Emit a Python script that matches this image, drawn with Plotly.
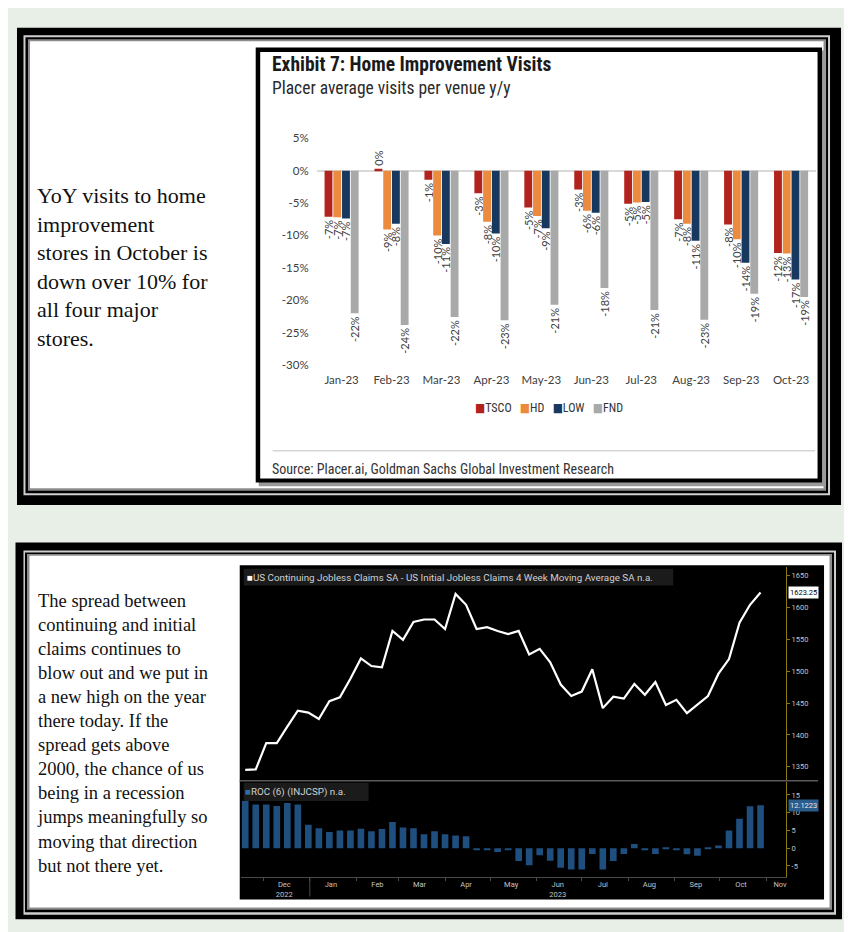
import plotly.graph_objects as go
import pandas as pd

W, H = 852, 932

# ---------------- data: top chart (Placer y/y visits) ----------------
months = ["Jan-23", "Feb-23", "Mar-23", "Apr-23", "May-23",
          "Jun-23", "Jul-23", "Aug-23", "Sep-23", "Oct-23"]
tsco = [-7.1, 0.3, -1.4, -3.5, -5.7, -2.9, -5.1, -7.5, -8.3, -12.7]
hd = [-7.2, -9.1, -10.0, -7.9, -7.0, -6.2, -4.9, -8.2, -10.6, -12.8]
low = [-7.4, -8.2, -11.3, -9.7, -8.9, -6.5, -4.85, -10.8, -14.2, -16.8]
fnd = [-22.0, -23.8, -22.6, -23.1, -20.7, -18.1, -21.5, -23.0, -19.0, -19.5]
tsco_lbl = ["-7%", "0%", "-1%", "-3%", "-5%", "-3%", "-5%", "-7%", "-8%", "-12%"]
hd_lbl = ["-7%", "-9%", "-10%", "-8%", "-7%", "-6%", "-5%", "-8%", "-10%", "-13%"]
low_lbl = ["-7%", "-8%", "-11%", "-10%", "-9%", "-6%", "-5%", "-11%", "-14%", "-17%"]
fnd_lbl = ["-22%", "-24%", "-22%", "-23%", "-21%", "-18%", "-21%", "-23%", "-19%", "-19%"]
pct_ticks = [-30, -25, -20, -15, -10, -5, 0, 5]
pct_tick_text = ["-30%", "-25%", "-20%", "-15%", "-10%", "-5%", "0%", "5%"]

# ---------------- data: bottom chart (claims spread) ----------------
weeks = pd.date_range("2022-11-19", periods=50, freq="7D")
spread = [1345, 1346, 1387, 1387, 1413, 1438, 1435, 1425, 1453, 1459,
          1488, 1520, 1508, 1506, 1563, 1549, 1577, 1581, 1581, 1566,
          1621, 1604, 1566, 1569, 1563, 1558, 1563, 1526, 1535, 1514,
          1479, 1461, 1468, 1503, 1442, 1460, 1457, 1480, 1463, 1483,
          1447, 1455, 1434, 1448, 1461, 1496, 1519, 1576, 1604, 1623.25]
roc6 = [13.3, 12.3, 12.3, 11.9, 12.7, 12.3, 6.6, 5.6, 4.6, 5.0,
        5.0, 5.5, 4.8, 5.4, 7.4, 5.8, 5.6, 3.9, 4.8, 3.9,
        3.6, 3.4, -0.6, -0.6, -1.1, -0.5, -3.6, -4.8, -2.0, -3.5,
        -5.5, -6.0, -6.0, -1.6, -6.0, -3.6, -1.6, 1.2, -0.5, -1.6,
        0.3, -0.3, -1.7, -2.1, 0.1, 0.8, 5.0, 8.3, 11.8, 12.1223]
spread_ticks = [1350, 1400, 1450, 1500, 1550, 1600, 1650]
roc_ticks = [-5, 0, 5, 10, 15]
roc_tick_text = ["-5", "0", "5", "10", "15"]
month_tick_dates = ["2022-12-15", "2023-01-15", "2023-02-15", "2023-03-15", "2023-04-15",
                    "2023-05-15", "2023-06-15", "2023-07-15", "2023-08-15", "2023-09-15",
                    "2023-10-15", "2023-11-10"]
month_tick_text = ["Dec<br>2022", "Jan", "Feb", "Mar", "Apr", "May", "Jun<br>2023",
                   "Jul", "Aug", "Sep", "Oct", "Nov"]
month_starts = ["2022-12-01", "2023-01-01", "2023-02-01", "2023-03-01", "2023-04-01",
                "2023-05-01", "2023-06-01", "2023-07-01", "2023-08-01", "2023-09-01",
                "2023-10-01", "2023-11-01"]
date_range = ["2022-11-16", "2023-11-14"]

# ---------------- styling ----------------
BG = "#E8EFE7"
NARROW = "Roboto Condensed, DejaVu Sans Condensed, Roboto, sans-serif"
SANS = "Roboto, Liberation Sans, sans-serif"
SERIF = "Liberation Serif, serif"
C_TSCO, C_HD, C_LOW, C_FND = "#B3231D", "#EC8A3E", "#17395F", "#A9A9A9"
C_BLUE = "#1F4F7F"
AX_GOLD = "#8A7A10"
BB_TXT = "#C4C4C4"


def px(x):
    return x / W


def py(y):
    return 1 - y / H


shapes = []


def rect(x0, y0, x1, y1, color, layer="below"):
    shapes.append(dict(type="rect", xref="paper", yref="paper",
                       x0=px(x0), x1=px(x1), y0=py(y1), y1=py(y0),
                       fillcolor=color, line=dict(width=0), layer=layer))


def hline(x0, x1, y, color, width=1, layer="below"):
    shapes.append(dict(type="line", xref="paper", yref="paper",
                       x0=px(x0), x1=px(x1), y0=py(y), y1=py(y),
                       line=dict(color=color, width=width), layer=layer))


# top frame
rect(9, 13, 834, 497, "#000000")
rect(15.5, 20.5, 823, 487, "#CFCFCF")
rect(17.5, 22.5, 821, 485, "#000000")
rect(20, 24.5, 819, 482.5, "#8C8C8C")
rect(22, 26.5, 816.5, 480, "#FFFFFF")
# top chart box with shadow
rect(251, 36, 819, 478, "#9A9A9A")
rect(248, 33, 815, 474, "#000000")
rect(252.5, 37.5, 810.5, 470, "#FFFFFF")
hline(265, 808, 442, "#D6D6D6", 1.5)

# bottom frame
rect(7.5, 535, 835, 917, "#000000")
rect(15.5, 543, 829, 912.5, "#CFCFCF")
rect(17, 545, 827, 910, "#000000")
rect(19, 546.7, 825, 907.5, "#8C8C8C")
rect(21.5, 548.5, 822.5, 905, "#FFFFFF")
# bloomberg black box
rect(232, 558, 817, 897, "#000000")
hline(232, 811, 776.5, "#5A5A5A", 1.5)
shapes.append(dict(type="line", xref="x3", yref="paper",
                   x0="2023-01-01", x1="2023-01-01", y0=py(874), y1=py(894),
                   line=dict(color="#4A4A4A", width=1), layer="above"))
# legend header boxes (bloomberg)
rect(236, 561.5, 666, 578.5, "#1B1B1B", layer="above")
rect(236, 778.5, 361, 797, "#1B1B1B", layer="above")

fig = go.Figure()

for name, vals, lbls, col in [("TSCO", tsco, tsco_lbl, C_TSCO), ("HD", hd, hd_lbl, C_HD),
                              ("LOW", low, low_lbl, C_LOW), ("FND", fnd, fnd_lbl, C_FND)]:
    fig.add_bar(x=months, y=vals, name=name, text=lbls, marker_color=col,
                marker_line_width=0, xaxis="x", yaxis="y",
                textposition="outside", textangle=-90, constraintext="none",
                textfont=dict(family="Lato", size=11, color="#404040"),
                cliponaxis=False, showlegend=False, hoverinfo="skip")

fig.add_scatter(x=weeks, y=spread, xaxis="x2", yaxis="y2", mode="lines",
                line=dict(color="#FFFFFF", width=2.2), showlegend=False)
fig.add_bar(x=weeks, y=roc6, xaxis="x3", yaxis="y3", marker_color=C_BLUE,
            marker_line_width=0, showlegend=False)

bb_font = dict(family=SANS, size=7.5, color=BB_TXT)

annotations = [
    dict(x=px(262), y=py(50), text="<b>Exhibit 7: Home Improvement Visits</b>",
         font=dict(family=NARROW, size=19.5, color="#1A1A1A")),
    dict(x=px(262), y=py(74), text="Placer average visits per venue y/y",
         font=dict(family=NARROW, size=17.5, color="#2A2A2A")),
    dict(x=px(466), y=py(399),
         text=(f"<span style='color:{C_TSCO}'>■</span>TSCO   "
               f"<span style='color:{C_HD}'>■</span>HD   "
               f"<span style='color:{C_LOW}'>■</span>LOW   "
               f"<span style='color:{C_FND}'>■</span>FND"),
         font=dict(family=NARROW, size=12, color="#333333")),
    dict(x=px(262), y=py(460), text="Source: Placer.ai, Goldman Sachs Global Investment Research",
         font=dict(family=NARROW, size=14, color="#333333")),
    dict(x=px(27), y=py(256), align="left",
         text="YoY visits to home<br>improvement<br>stores in October is<br>down over 10% for<br>all four major<br>stores.",
         font=dict(family=SERIF, size=22, color="#111111")),
    dict(x=px(27), y=py(729), align="left",
         text=("The spread between<br>continuing and initial<br>claims continues to<br>"
               "blow out and we put in<br>a new high on the year<br>there today. If the<br>"
               "spread gets above<br>2000, the chance of us<br>being in a recession<br>"
               "jumps meaningfully so<br>moving that direction<br>but not there yet."),
         font=dict(family=SERIF, size=18.5, color="#111111")),
    dict(x=px(237), y=py(570),
         text=("<span style='color:#FFFFFF'>■</span>US Continuing Jobless Claims SA - "
               "US Initial Jobless Claims 4 Week Moving Average SA n.a."),
         font=dict(family=SANS, size=9.8, color="#D0D0D0")),
    dict(x=px(235), y=py(788),
         text=f"<span style='color:#2F6DAA'>■</span>ROC (6) (INJCSP) n.a.",
         font=dict(family=SANS, size=9.8, color="#D0D0D0")),
    dict(x=px(781), xref="paper", yref="y2", y=spread[-1], text=f"{spread[-1]:.2f}",
         bgcolor="#FFFFFF", borderpad=1, font=dict(family=SANS, size=7.5, color="#000000")),
    dict(x=px(781), xref="paper", yref="y3", y=roc6[-1], text=f"{roc6[-1]:.4f}",
         bgcolor="#2A5C8E", borderpad=1, font=dict(family=SANS, size=7.5, color="#E6E6E6")),
]
for a in annotations:
    a.setdefault("xref", "paper")
    a.setdefault("yref", "paper")
    a.setdefault("xanchor", "left")
    a.setdefault("yanchor", "middle")
    a["showarrow"] = False

fig.update_layout(
    width=W, height=H, margin=dict(l=0, r=0, t=0, b=0),
    paper_bgcolor=BG, plot_bgcolor="rgba(0,0,0,0)",
    barmode="group", bargap=0.3, bargroupgap=0.1,
    showlegend=False, shapes=shapes, annotations=annotations,
    xaxis=dict(domain=[px(309), px(809)], anchor="y", type="category",
               showgrid=False, zeroline=False, showline=False, ticks="",
               ticklabelstandoff=6,
               tickfont=dict(family="Lato", size=11.5, color="#404040")),
    yaxis=dict(domain=[py(355), py(125)], anchor="x", range=[-30, 5],
               tickvals=pct_ticks, ticktext=pct_tick_text,
               showgrid=False, zeroline=True, zerolinecolor="#D9D9D9", zerolinewidth=1.5,
               showline=False, ticks="", ticklabelstandoff=7,
               tickfont=dict(family="Lato", size=11.5, color="#404040")),
    xaxis2=dict(domain=[px(233), px(779)], anchor="y2", type="date", range=date_range,
                showticklabels=False, showgrid=False, zeroline=False, showline=False, ticks=""),
    yaxis2=dict(domain=[py(776), py(560)], anchor="x2", side="right", range=[1329, 1663],
                tickvals=spread_ticks, showgrid=False, zeroline=False,
                showline=True, linecolor=AX_GOLD, linewidth=1,
                ticks="outside", ticklen=3, tickcolor=AX_GOLD, tickfont=bb_font),
    xaxis3=dict(domain=[px(233), px(779)], anchor="y3", type="date", range=date_range,
                tickvals=month_tick_dates, ticktext=month_tick_text, ticks="",
                showgrid=False, zeroline=False, showline=True, linecolor="#4A4A4A",
                minor=dict(tickvals=month_starts, ticks="outside", ticklen=3,
                           tickcolor="#4A4A4A"),
                tickfont=bb_font),
    yaxis3=dict(domain=[py(874), py(778)], anchor="x3", side="right", range=[-8.05, 18.6],
                tickvals=roc_ticks, ticktext=roc_tick_text, showgrid=False, zeroline=False,
                showline=True, linecolor=AX_GOLD, linewidth=1,
                ticks="outside", ticklen=3, tickcolor=AX_GOLD, tickfont=bb_font),
)

fig.write_html("out.html")
